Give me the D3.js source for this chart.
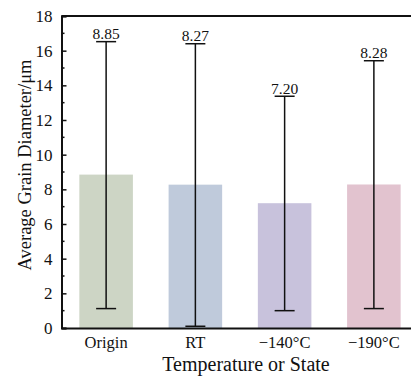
<!DOCTYPE html>
<html><head><meta charset="utf-8">
<script src="https://cdn.jsdelivr.net/npm/d3@7"></script>
<style>body{margin:0;background:#fff}svg{display:block}svg text{font-family:"Liberation Serif","Times New Roman",Times,serif !important;fill:#111}</style>
</head><body><svg id="c" width="411" height="376"></svg>
<script>
const categories = ["Origin", "RT", "\u2212140\u00B0C", "\u2212190\u00B0C"];
const means = [8.85, 8.27, 7.20, 8.28];
const errUpper = [16.52, 16.40, 13.37, 15.42];
const errLower = [1.12, 0.10, 1.00, 1.12];
const labels = ["8.85", "8.27", "7.20", "8.28"];
const colors = ["#cdd5c5", "#bfcadb", "#c8c2dc", "#e2c3cf"];
const yTicks = [0, 2, 4, 6, 8, 10, 12, 14, 16, 18];

const svg = d3.select("#c");
const FONT = "'Liberation Serif', 'Times New Roman', serif";
const m = {l: 61.5, t: 16, r: 418.5, b: 328};
const x = d3.scaleBand().domain(categories).range([m.l, m.r]).paddingInner(0.4).paddingOuter(0.2);
const y = d3.scaleLinear().domain([0, 18]).range([m.b, m.t]);

// bars
svg.selectAll("rect.bar").data(categories).join("rect")
  .attr("x", d => x(d)).attr("width", x.bandwidth())
  .attr("y", (d, i) => y(means[i])).attr("height", (d, i) => y(0) - y(means[i]))
  .attr("fill", (d, i) => colors[i]);

// error bars
const cx = d => x(d) + x.bandwidth() / 2;
const capW = 10;
const g = svg.append("g").attr("stroke", "#111").attr("stroke-width", 1.5);
categories.forEach((d, i) => {
  g.append("line").attr("x1", cx(d)).attr("x2", cx(d)).attr("y1", y(errUpper[i])).attr("y2", y(errLower[i]));
  g.append("line").attr("x1", cx(d) - capW).attr("x2", cx(d) + capW).attr("y1", y(errUpper[i])).attr("y2", y(errUpper[i]));
  g.append("line").attr("x1", cx(d) - capW).attr("x2", cx(d) + capW).attr("y1", y(errLower[i])).attr("y2", y(errLower[i]));
});
svg.selectAll("text.val").data(categories).join("text")
  .attr("x", d => cx(d)).attr("y", (d, i) => y(errUpper[i]) - 2.5)
  .attr("text-anchor", "middle").attr("font-size", 15.5).style("font-family", FONT).text((d, i) => labels[i]);

// frame
svg.append("line").attr("x1", m.l).attr("x2", m.r).attr("y1", m.t).attr("y2", m.t).attr("stroke", "#111").attr("stroke-width", 2);

// y axis
const yAxis = d3.axisLeft(y).tickValues(yTicks).tickSize(-5).tickPadding(9);
const ya = svg.append("g").attr("transform", `translate(${m.l},0)`).call(yAxis);
ya.attr("font-family", null);
ya.select(".domain").attr("stroke-width", 2).attr("stroke", "#111");
ya.selectAll(".tick line").attr("stroke-width", 1.5).attr("stroke", "#111");
ya.selectAll("text").attr("font-size", 17).style("font-family", FONT).attr("fill", "#111");
const minor = d3.range(1, 18, 2);
ya.selectAll("line.minor").data(minor).join("line").attr("class", "minor")
  .attr("x1", 0).attr("x2", 3).attr("y1", d => y(d)).attr("y2", d => y(d)).attr("stroke", "#111").attr("stroke-width", 1.5);

// x axis
const xAxis = d3.axisBottom(x).tickSize(0).tickPadding(8.5);
const xa = svg.append("g").attr("transform", `translate(0,${m.b})`).call(xAxis);
xa.attr("font-family", null);
xa.select(".domain").attr("stroke-width", 2).attr("stroke", "#111");
xa.selectAll("text").attr("font-size", 16.5).style("font-family", FONT).attr("fill", "#111");

svg.append("text").attr("x", 246).attr("y", 371).attr("text-anchor", "middle").attr("font-size", 20).style("font-family", FONT).text("Temperature or State");
svg.append("text").attr("transform", "translate(31,165) rotate(-90)").attr("text-anchor", "middle").attr("font-size", 18.5).style("font-family", FONT).text("Average Grain Diameter/\u03BCm");
</script></body></html>
